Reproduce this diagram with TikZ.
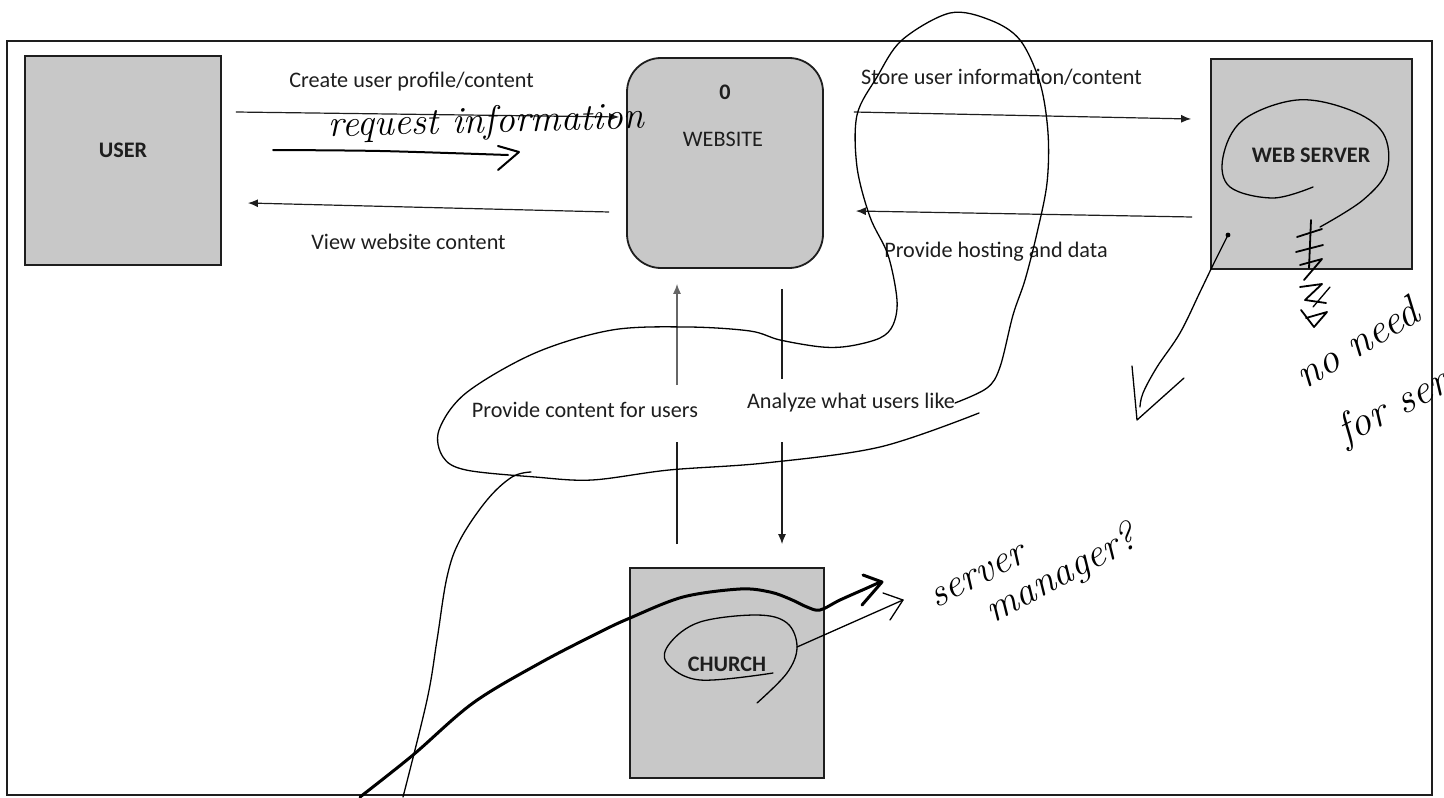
\documentclass[tikz,border=0pt]{standalone}
\usepackage{fontspec}
\newfontfamily\calibri{Carlito}
\usetikzlibrary{arrows.meta,calc}
\definecolor{boxgray}{RGB}{200,200,200}
\definecolor{ink}{RGB}{30,30,30}
\begin{document}
\begin{tikzpicture}[x=0.5pt,y=-0.5pt,
  entity/.style={draw=ink, line width=0.9pt, fill=boxgray, inner sep=0pt},
  printed/.style={font=\calibri\fontsize{11.1}{13}\selectfont, text=ink, inner sep=0pt},
  heading/.style={font=\calibri\bfseries\fontsize{11.1}{13}\selectfont, text=ink, inner sep=0pt},
  flow/.style={draw=ink, line width=0.6pt, -{Latex[length=5pt,width=4pt]}},
  plainflow/.style={draw=ink, line width=0.6pt},
  pen/.style={draw=black, line width=0.65pt, line cap=round, line join=round},
  thickpen/.style={pen, line width=1.5pt},
  script/.style={font=\itshape\fontsize{17}{19}\selectfont, inner sep=0pt},
]
\useasboundingbox (0,0) rectangle (1444,797);

% outer frame
\draw[ink, line width=1pt] (7,41) rectangle (1432,795);

% external entities and the process
\node[entity, minimum width=98pt, minimum height=104.5pt] (user) at (123,160.5) {};
\node[heading] (userlbl) at (123,150) {USER};
\node[entity, rounded corners=17pt, minimum width=98pt, minimum height=105pt] (website) at (725,163) {};
\node[heading] (webnum) at (725,92) {0};
\node[printed] (weblbl) at (723,139) {WEBSITE};
\node[entity, minimum width=100.5pt, minimum height=105pt] (server) at (1311.5,164) {};
\node[heading] (serverlbl) at (1311,155) {WEB SERVER};
\node[entity, minimum width=97pt, minimum height=105pt] (church) at (727,673) {};
\node[heading] (churchlbl) at (727,664) {CHURCH};

% data flows between user and website
\draw[flow] ($(user.east)+(14,-48.5)$) -- ($(website.west)+(-7,-46)$);
\node[printed] (createlbl) at (411.5,82) {Create user profile/content};
\draw[flow] ($(website.west)+(-17,49)$) -- ($(user.east)+(26,42.5)$);
\node[printed] (viewlbl) at (408.5,242) {View website content};

% data flows between website and web server
\draw[flow] ($(website.east)+(30,-51)$) -- ($(server.west)+(-19,-45)$);
\node[printed] (storelbl) at (1001.5,77) {Store user information/content};
\draw[flow] ($(server.west)+(-18,53)$) -- ($(website.east)+(32,48)$);
\node[printed] (hostlbl) at (996,252) {Provide hosting and data};

% data flows between church and website
\coordinate (pcA) at (677,442);
\coordinate (pcB) at (677,385);
\draw[plainflow] ($(church.north)+(-50,-23)$) -- (pcA);
\draw[flow, draw=black!60] (pcB) -- ($(website.south)+(-48,15)$);
\node[printed] (providelbl) at (585,410) {Provide content for users};
\coordinate (anA) at (782,379);
\coordinate (anB) at (782,442);
\draw[plainflow] ($(website.south)+(57,20)$) -- (anA);
\draw[flow] (anB) -- ($(church.north)+(55,-23)$);
\node[printed] (analyzelbl) at (851,403) {Analyze what users like};

% pen notes: request information
\node[script, font=\itshape\fontsize{19}{21}\selectfont, rotate=1.5] (reqnote) at (486,123) {request information};
\draw[pen, line width=1pt] plot[smooth] coordinates {(273,150) (380,151) (508,155)};
\draw[pen, line width=1pt] (498,146) -- (519,152) -- (498,170);

% pen notes: large loop around the website/church flows
\draw[pen] plot[smooth, tension=0.55] coordinates {
  (955,403) (987,388) (1000,367) (1013,315) (1025,280) (1037,233) (1047,183)
  (1048,133) (1040,83) (1020,40) (990,20) (950,13) (902,40) (877,77)
  (857,115) (857,167) (870,217) (888,255) (897,300) (893,325) (880,338)
  (850,346) (822,347) (780,340) (750,331) (688,327) (612,330) (535,353)
  (466,393) (439,430) (443,457) (466,470) (535,477) (592,480) (669,470)
  (765,463) (880,447) (979,413)};

% pen notes: thin stroke rising from the bottom edge
\draw[pen] plot[smooth, tension=0.6] coordinates {
  (403,797) (427,700) (437,640) (447,577) (460,540) (487,500) (512,477) (531,472)};

% pen notes: heavy stroke through the church box
\draw[thickpen] plot[smooth, tension=0.55] coordinates {
  (360,797) (413,755) (473,703) (540,663) (600,632) (630,618) (683,597)
  (740,589) (770,592) (790,599) (807,607) (820,610) (840,600) (867,588) (878,583)};
\draw[thickpen] (863,575) -- (882,582) -- (862,605);

% pen notes: circle round CHURCH and pointer
\draw[pen] plot[smooth, tension=0.6] coordinates {
  (773,673) (700,680) (667,663) (670,643) (700,622) (757,615) (787,623) (797,647) (787,673) (757,703)};
\draw[pen] (797,647) -- (903,600);
\draw[pen] (883,593) -- (903,600) -- (890,620);
\node[script, font=\itshape\fontsize{20}{22}\selectfont, rotate=27] (servernote) at (978,577) {server};
\node[script, font=\itshape\fontsize{20}{22}\selectfont, rotate=28] (managernote) at (1062,575) {manager?};

% pen notes: circle round WEB SERVER
\draw[pen] plot[smooth, tension=0.6] coordinates {
  (1313,187) (1273,198) (1230,187) (1223,157) (1243,120) (1297,100)
  (1350,110) (1383,133) (1387,170) (1363,200) (1320,227)};

% pen notes: scribbled characters under WEB SERVER
\draw[pen, line width=0.9pt] (1311,220) -- (1309,268);
\draw[pen, line width=0.9pt] (1297,237) -- (1322,229);
\draw[pen, line width=0.9pt] (1296,252) -- (1323,245);
\draw[pen, line width=0.9pt] (1300,265) -- (1322,259) -- (1304,280);
\draw[pen, line width=0.9pt] (1300,287) -- (1322,284) -- (1305,300) -- (1326,303);
\draw[pen, line width=0.9pt] (1301,310) -- (1314,327) -- (1327,312) -- (1306,318);
\draw[pen] (1313,307) -- (1330,287);

% pen notes: big arrow down-left from WEB SERVER
\fill (1228,235) circle (1.2pt);
\draw[pen] plot[smooth, tension=0.6] coordinates {
  (1228,235) (1213,265) (1200,292) (1180,333) (1157,367) (1143,393) (1140,407)};
\draw[pen] (1132,366) -- (1137,420) -- (1184,378);
\node[script, font=\itshape\fontsize{21}{23}\selectfont, rotate=31, anchor=base west] (neednote) at (1305,390) {no need};
\node[script, font=\itshape\fontsize{21}{23}\selectfont, rotate=27, anchor=base west] (fornote) at (1345,445) {for server};
\end{tikzpicture}
\end{document}
